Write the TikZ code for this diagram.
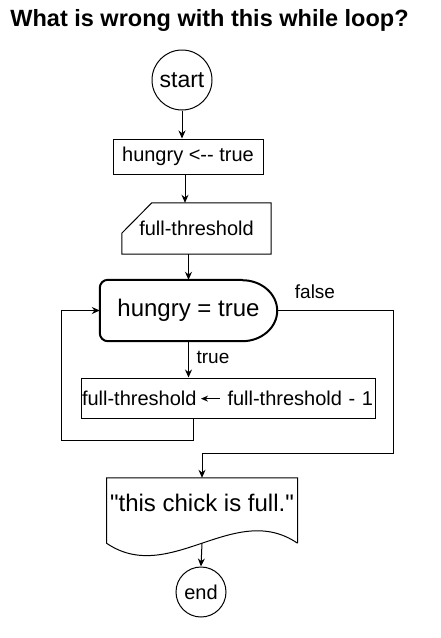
\documentclass[tikz,border=0pt]{standalone}
\usepackage{fontspec}
\setmainfont{Liberation Sans}[Ligatures=TeXOff]
\usetikzlibrary{arrows.meta}

\tikzset{
  term/.style={draw,circle,line width=1pt,inner sep=0pt},
  procbox/.style={draw,rectangle,line width=1pt,inner sep=0pt},
  conn/.style={draw,line width=1pt,->},
}
\newcommand{\larr}{\tikz[baseline=-6.5pt]\draw[line width=1pt,-{Stealth[length=7pt,width=6pt]}] (19pt,0pt) -- (0pt,0pt);}

\begin{document}
\begin{tikzpicture}[x=1pt,y=-1pt,>={Stealth[length=8pt,width=7pt]}]
  \useasboundingbox (0,0) rectangle (441,638);

  \node[anchor=base,font=\fontsize{23.5}{28}\selectfont\bfseries] (title) at (209.5,26.7) {What is wrong with this while loop?};

  \node[term,minimum size=60pt,font=\fontsize{23}{28}\selectfont] (start) at (182,80) {start};
  \node[procbox,minimum width=150pt,minimum height=35pt,font=\fontsize{20}{24}\selectfont] (init) at (188,156.5) {hungry <-- true};

  \node[font=\fontsize{20}{24}\selectfont,minimum width=149pt,minimum height=51pt,inner sep=0pt] (thr) at (196.5,228.5) {full-threshold};
  \draw[line width=1pt] (thr.south west) -- ++(0,-21) -- ([xshift=30pt]thr.north west) -- (thr.north east) -- (thr.south east) -- cycle;

  \node[font=\fontsize{24}{28}\selectfont,minimum width=177pt,minimum height=61pt,inner sep=0pt] (cond) at (188.5,310.5) {hungry = true};
  \draw[line width=2pt,rounded corners=8pt] ([xshift=-35pt]cond.north east) -- (cond.north west) -- (cond.south west) -- ([xshift=-35pt]cond.south east);
  \draw[line width=2pt] ([xshift=-35pt]cond.south east) arc[start angle=-90,end angle=90,x radius=35pt,y radius=30.5pt];

  \node[font=\fontsize{19}{23}\selectfont] (lfalse) at (315,292) {false};
  \node[font=\fontsize{19}{23}\selectfont] (ltrue) at (213,357) {true};

  \node[procbox,text width=292pt,align=left,inner xsep=1pt,minimum height=40pt,font=\fontsize{20}{24}\selectfont] (dec) at (228,398) {full-threshold\hspace{4pt}\larr\hspace{7pt}full-threshold - 1};

  \node[minimum width=190.6pt,inner sep=0pt,text height=33.5pt,text depth=31.5pt,font=\fontsize{24}{28}\selectfont] (out) at (202,510.5) {"this chick is full."};
  \draw[line width=1pt] (out.south east) -- (out.north east) -- (out.north west) -- (out.south west) .. controls +(63,43) and +(-63,-43) .. (out.south east);

  \node[term,minimum size=50pt,font=\fontsize{20}{24}\selectfont] (fin) at (201,592) {end};

  \coordinate (back) at (61,440);
  \coordinate (exit) at (393,453);

  \path[conn] (start) -- (start |- init.north);
  \path[conn] ([xshift=-3pt]init.south) -- ([xshift=-3pt]init.south |- thr.north);
  \path[conn] (cond.north |- thr.south) -- (cond.north);
  \path[conn] (cond.south) -- (cond.south |- dec.north);
  \path[conn] ([xshift=-35pt]dec.south) |- (back) |- (cond.west);
  \path[conn] (cond.east) -| (exit) -| (out.north);
  \path[conn] (out.south) -- (fin.north);
\end{tikzpicture}
\end{document}
